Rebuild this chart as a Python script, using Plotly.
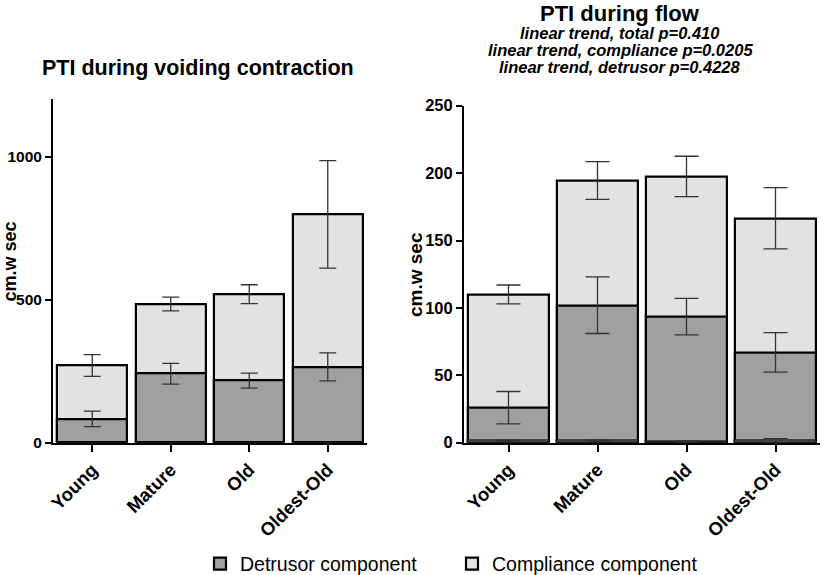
import plotly.graph_objects as go

W, H = 822, 575

categories = ["Young", "Mature", "Old", "Oldest-Old"]

# PTI during voiding contraction
void_total = [270, 485, 519, 798]
void_total_err = [38, 24, 33, 188]
void_detrusor = [83, 241, 217, 265]
void_detrusor_err = [27, 36, 26, 49]

# PTI during flow
flow_total = [110, 194.5, 197.5, 166.5]
flow_total_err = [7, 14, 15, 22.7]
flow_detrusor = [26, 102, 93.5, 67]
flow_detrusor_err = [12, 21, 13.5, 14.7]
flow_minor = [1.5, 1.5, 1.0, 1.5]
flow_minor_err = [0.3, 0.5, 0.3, 1.5]

DET = "#a0a0a0"
COMP = "#e2e2e2"
ERR = "#333333"
FONT = "Liberation Sans, Arial, sans-serif"


def px(x):
    return x / W


def py(y):
    return 1 - y / H


fig = go.Figure()


def add_bars(xa, ya, total, terr, det, derr, cap, width, legend):
    fig.add_trace(go.Bar(
        x=categories, y=total, xaxis=xa, yaxis=ya, width=width,
        name="Compliance component", legendrank=2, showlegend=legend,
        marker=dict(color=COMP, line=dict(color="black", width=2.2)),
        error_y=dict(type="data", array=terr, visible=True, color=ERR,
                     thickness=1.3, width=cap),
    ))
    fig.add_trace(go.Bar(
        x=categories, y=det, xaxis=xa, yaxis=ya, width=width,
        name="Detrusor component", legendrank=1, showlegend=legend,
        marker=dict(color=DET, line=dict(color="black", width=2.2)),
        error_y=dict(type="data", array=derr, visible=True, color=ERR,
                     thickness=1.3, width=cap),
    ))


add_bars("x", "y", void_total, void_total_err, void_detrusor,
         void_detrusor_err, 8.5, 0.89, True)
add_bars("x2", "y2", flow_total, flow_total_err, flow_detrusor,
         flow_detrusor_err, 12, 0.9, False)
fig.add_trace(go.Bar(
    x=categories, y=flow_minor, xaxis="x2", yaxis="y2", width=0.9,
    showlegend=False, name="",
    marker=dict(color=DET, line=dict(color="#222222", width=1.5)),
    error_y=dict(type="data", array=flow_minor_err, visible=True,
                 color=ERR, thickness=1.3, width=12),
))

tickfont_y1 = dict(family=FONT, size=15.5, color="black", weight="bold")
tickfont_y2 = dict(family=FONT, size=16.5, color="black", weight="bold")
tickfont_x = dict(family=FONT, size=18.5, color="black", weight="bold")

common_x = dict(type="category", range=[-0.5, 3.5], showline=True,
                linecolor="black", linewidth=2, ticks="outside", ticklen=7,
                tickwidth=2, tickcolor="black", tickangle=-45,
                tickfont=tickfont_x, showgrid=False, zeroline=False)
common_y = dict(showline=True, linecolor="black", linewidth=2,
                ticks="outside", ticklen=6, tickwidth=2, tickcolor="black",
                showgrid=False, zeroline=False)

fig.update_layout(
    width=W, height=H,
    margin=dict(l=0, r=0, t=0, b=0, autoexpand=False),
    paper_bgcolor="white", plot_bgcolor="white",
    barmode="overlay",
    bargap=0,
    xaxis=dict(domain=[px(53), px(367)], anchor="y", **common_x),
    yaxis=dict(domain=[py(442.7), py(99.3)], anchor="x", range=[0, 1200],
               tickvals=[0, 500, 1000], tickfont=tickfont_y1, **common_y),
    xaxis2=dict(domain=[px(464), px(820)], anchor="y2", **common_x),
    yaxis2=dict(domain=[py(442.7), py(105.7)], anchor="x2", range=[0, 250],
                tickvals=[0, 50, 100, 150, 200, 250], tickfont=tickfont_y2,
                **common_y),
    legend=dict(orientation="h", x=px(200), y=py(564), yanchor="middle",
                xanchor="left", font=dict(family=FONT, size=19.5, color="black"),
                entrywidth=207, entrywidthmode="pixels",
                bgcolor="rgba(0,0,0,0)"),
    font=dict(family=FONT, color="black"),
)

ann = [
    dict(text="<b>PTI during voiding contraction</b>", x=px(197.5), y=py(68),
         font=dict(size=21.5)),
    dict(text="<b>PTI during flow</b>", x=px(620), y=py(13),
         font=dict(size=22)),
    dict(text="<b><i>linear trend, total p=0.410</i></b>", x=px(620),
         y=py(33), font=dict(size=16.5)),
    dict(text="<b><i>linear trend, compliance p=0.0205</i></b>", x=px(620),
         y=py(50), font=dict(size=16.5)),
    dict(text="<b><i>linear trend, detrusor p=0.4228</i></b>", x=px(620),
         y=py(67), font=dict(size=16.5)),
    dict(text="<b>cm.w sec</b>", x=px(9.5), y=py(262), textangle=-90,
         font=dict(size=18)),
    dict(text="<b>cm.w sec</b>", x=px(415), y=py(275), textangle=-90,
         font=dict(size=19)),
]
for a in ann:
    a.update(xref="paper", yref="paper", showarrow=False, xanchor="center",
             yanchor="middle")
    a["font"].update(family=FONT, color="black")
fig.update_layout(annotations=ann)

fig.write_html(
    "out.html",
    config={"displayModeBar": False},
    post_script="document.body.style.margin='0';"
                "document.body.style.overflow='hidden';",
)
